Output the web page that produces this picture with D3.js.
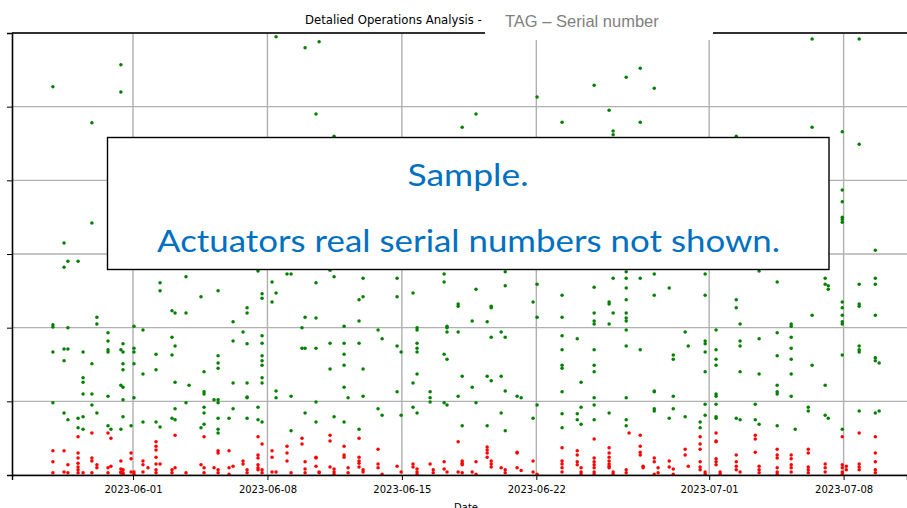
<!DOCTYPE html>
<html>
<head>
<meta charset="utf-8">
<script src="https://cdn.jsdelivr.net/npm/d3@7"></script>
<style>
html,body{margin:0;padding:0;background:#fff;overflow:hidden;}
svg{display:block;}
</style>
</head>
<body>
<svg id="chart" width="907" height="508"></svg>
<script>
// ---------------- DATA ----------------
const titleText = "Detalied Operations Analysis - ";
const tagText = "TAG \u2013 Serial number";
const xLabel = "Date";
const sampleLine1 = "Sample.";
const sampleLine2 = "Actuators real serial numbers not shown.";
const baseDate = "2023-06-01";
const xDomain = ["2023-05-25T16:48", "2023-07-11T07:12"];
const xTickLabels = ["2023-06-01", "2023-06-08", "2023-06-15", "2023-06-22", "2023-07-01", "2023-07-08"];
const yTicks = [0, 1, 2, 3, 4, 5, 6];

// [days after 2023-06-01, [values...]]
const greenCols = [
  [-4.17, [5.27, 2.04, 2.01, 1.67, 0.98]],
  [-3.59, [3.15, 2.82, 1.71, 1.55, 0.84]],
  [-3.39, [2.90, 2.00, 1.71, 0.75]],
  [-2.86, [2.90, 0.77, 0.64]],
  [-2.60, [1.67, 1.32, 1.26, 1.10, 0.79, 0.62]],
  [-2.14, [4.78, 3.42, 1.51, 1.10, 0.95]],
  [-1.88, [2.14, 2.05, 0.84]],
  [-1.30, [1.93, 1.82, 1.70, 1.67, 1.07, 0.67]],
  [-1.15, [0.62]],
  [-0.63, [5.57, 5.20, 1.70, 1.22, 0.62]],
  [-0.52, [1.78, 1.67, 1.51, 1.43, 1.19, 1.02, 0.79]],
  [-0.10, [0.67]],
  [0.05, [2.02, 1.72, 1.67, 1.51, 1.05]],
  [0.52, [1.97, 1.37, 0.72]],
  [1.20, [1.64, 1.43, 0.72]],
  [1.41, [2.61, 2.50, 0.65]],
  [2.03, [2.23, 1.87, 1.63, 0.77]],
  [2.19, [2.20, 1.75, 1.26, 0.90, 0.75]],
  [2.76, [2.69, 2.20, 0.98]],
  [2.92, [1.22]],
  [3.54, [2.42, 0.64]],
  [3.70, [1.40, 1.13, 1.10, 0.92, 0.84, 0.69]],
  [4.22, [1.02]],
  [4.43, [2.50, 1.62, 1.52, 1.45, 1.02, 0.98, 0.77, 0.62, 0.57]],
  [5.00, [0.77]],
  [5.21, [2.08, 1.82, 1.25, 0.90]],
  [5.73, [1.94]],
  [5.94, [2.27, 2.20, 1.78, 1.25, 1.06, 1.05, 0.77]],
  [6.51, [2.77, 0.92, 0.75]],
  [6.72, [2.46, 2.40, 1.89, 1.79, 1.62, 1.55, 1.49, 1.32, 1.25, 0.72]],
  [7.24, [2.62, 2.35]],
  [7.45, [5.95, 2.47, 1.14, 1.05]],
  [8.02, [2.73]],
  [8.23, [2.73, 1.07, 0.60]],
  [8.80, [2.00, 1.72]],
  [8.96, [5.80, 2.14, 1.72, 0.84]],
  [9.53, [4.90, 2.61, 2.13, 1.72, 0.99, 0.72]],
  [9.69, [5.88]],
  [10.26, [2.78, 1.79, 1.44]],
  [10.47, [4.60, 2.69, 0.79]],
  [10.99, [2.02, 1.79, 1.64, 1.49, 1.19, 0.72]],
  [11.20, [1.05]],
  [11.77, [2.38, 2.09, 1.79, 0.62]],
  [11.98, [2.67, 2.42, 1.44, 1.07]],
  [12.76, [1.97, 0.90]],
  [12.97, [1.85, 0.81]],
  [13.75, [2.67, 2.42, 1.75, 1.13]],
  [13.96, [1.67, 0.81]],
  [14.58, [2.47, 1.25, 0.92]],
  [14.79, [2.00, 1.97, 1.79, 1.72, 1.67, 1.37, 0.84]],
  [15.47, [1.13, 1.05, 0.99]],
  [16.20, [2.73, 2.62, 1.64, 0.98]],
  [16.35, [2.02, 2.00, 1.94, 1.57, 0.95]],
  [16.93, [2.32, 2.29, 1.94, 1.07]],
  [17.14, [4.72, 1.34, 0.67]],
  [17.66, [2.09, 1.19]],
  [17.86, [4.90, 2.52, 0.98]],
  [18.44, [2.08, 1.34, 0.67]],
  [18.65, [2.29, 2.27, 1.87, 1.28]],
  [19.17, [1.94, 1.34, 0.84]],
  [19.38, [2.76, 2.57, 1.87, 1.14, 0.60]],
  [20.00, [1.07]],
  [20.21, [1.05]],
  [20.83, [2.35, 0.77]],
  [21.04, [5.13, 2.59, 2.14, 0.95]],
  [22.34, [4.79, 2.44, 2.14, 1.89, 1.70, 1.49, 1.45, 1.13, 0.83, 0.64]],
  [23.13, [1.85, 0.83, 0.75]],
  [23.33, [1.26, 0.92, 0.69]],
  [24.01, [5.29, 2.55, 2.20, 2.09, 2.05, 1.70, 1.49, 1.40, 1.05, 0.95, 0.75]],
  [24.79, [4.95, 2.35, 2.32, 2.05, 0.84]],
  [25.00, [4.67, 4.62, 2.67, 2.20]],
  [25.68, [5.40, 2.76, 2.67, 2.54, 2.38, 2.20, 2.13, 2.09, 1.97, 1.75, 1.05, 0.75, 0.67]],
  [26.41, [5.52, 4.79, 2.67, 1.70]],
  [27.14, [5.25, 2.73, 2.44, 1.14, 1.13, 0.90, 0.87]],
  [27.92, [2.54, 0.77]],
  [28.13, [1.63, 1.57, 1.07, 0.90]],
  [28.75, [1.94, 0.79]],
  [28.91, [1.75]],
  [29.53, [0.72, 0.64]],
  [29.79, [2.73, 2.44, 1.82, 1.78, 1.67, 1.40, 0.96, 0.81]],
  [30.36, [1.97, 1.70, 1.57, 1.49, 1.10, 1.07, 0.96, 0.79, 0.77]],
  [31.41, [4.60, 2.38, 2.27, 0.77]],
  [31.61, [2.05, 1.82, 1.75, 1.40, 0.75]],
  [32.40, [0.96, 0.75]],
  [32.60, [2.77, 1.85, 1.37, 0.69]],
  [33.54, [2.62, 1.93, 1.62, 1.22, 1.13, 1.10, 0.67]],
  [34.27, [2.05, 2.02, 1.87, 1.72, 1.57, 1.37, 1.07]],
  [34.48, [0.62]],
  [35.16, [0.92, 0.87]],
  [35.36, [5.92, 4.72, 2.17, 1.49]],
  [36.04, [2.67, 2.59, 1.22, 0.81]],
  [36.20, [2.57, 2.52, 0.77]],
  [36.93, [4.66, 3.87, 3.71, 3.50, 3.47, 3.43, 2.35, 2.27, 2.17, 2.08, 2.05, 1.63, 0.62]],
  [37.81, [5.92, 4.49, 2.59, 2.32, 2.29, 1.75, 1.70, 1.67, 0.87]],
  [38.65, [3.05, 2.67, 2.59, 2.17, 1.59, 1.55, 0.84]],
  [38.85, [1.52, 0.87]]
];

const redCols = [
  [-4.17, [0.33, 0.18, 0.03]],
  [-3.59, [0.33, 0.04]],
  [-3.39, [0.14, 0.03]],
  [-2.86, [0.52, 0.30, 0.23, 0.16, 0.11, 0.07, 0.03]],
  [-2.60, [0.03]],
  [-2.14, [0.57, 0.23, 0.19, 0.03]],
  [-1.88, [0.14, 0.10]],
  [-1.30, [0.57, 0.10, 0.03]],
  [-1.15, [0.50, 0.12]],
  [-0.63, [0.19, 0.08, 0.04, 0.03]],
  [-0.52, [0.07, 0.03, 0.01]],
  [-0.10, [0.30, 0.22, 0.04]],
  [0.05, [0.04, 0.01]],
  [0.52, [0.19, 0.14, 0.04]],
  [0.78, [0.10]],
  [1.20, [0.45, 0.39, 0.34, 0.24, 0.15, 0.07, 0.03]],
  [1.41, [0.15]],
  [2.03, [0.07, 0.03]],
  [2.19, [0.54, 0.10]],
  [2.76, [0.03]],
  [3.54, [0.14]],
  [3.70, [0.52, 0.10, 0.03]],
  [4.22, [0.10]],
  [4.43, [0.33, 0.30, 0.07, 0.03]],
  [5.00, [0.33, 0.10, 0.01]],
  [5.21, [0.12]],
  [5.73, [0.19, 0.15]],
  [5.94, [0.07, 0.03]],
  [6.51, [0.52, 0.27, 0.23, 0.14, 0.10, 0.07]],
  [6.72, [0.42, 0.07, 0.03]],
  [7.24, [0.33, 0.24, 0.04]],
  [7.45, [0.04]],
  [8.02, [0.39, 0.30, 0.19]],
  [8.23, [0.03]],
  [8.80, [0.50, 0.42]],
  [8.96, [0.18, 0.08, 0.03]],
  [9.53, [0.24, 0.23, 0.12]],
  [9.69, [0.04, 0.03]],
  [10.26, [0.54, 0.46, 0.11]],
  [10.47, [0.08, 0.04, 0.01]],
  [10.99, [0.39, 0.27, 0.24]],
  [11.20, [0.10, 0.03]],
  [11.77, [0.50, 0.24, 0.19, 0.16, 0.11]],
  [11.98, [0.07, 0.04]],
  [12.76, [0.35, 0.15, 0.10]],
  [12.97, [0.01]],
  [13.75, [0.12]],
  [13.96, [0.04]],
  [14.58, [0.15, 0.11]],
  [14.79, [0.08, 0.04, 0.01]],
  [15.47, [0.15]],
  [15.63, [0.07, 0.03]],
  [16.20, [0.18, 0.08]],
  [16.35, [0.04]],
  [16.93, [0.45, 0.04]],
  [17.14, [0.19, 0.16, 0.14, 0.03]],
  [17.66, [0.04]],
  [17.86, [0.18, 0.01]],
  [18.44, [0.38, 0.34, 0.30, 0.24]],
  [18.65, [0.19, 0.15, 0.11]],
  [19.17, [0.10]],
  [19.38, [0.07, 0.03]],
  [20.00, [0.31, 0.30, 0.10]],
  [20.21, [0.06]],
  [20.83, [0.19, 0.04]],
  [21.04, [0.01]],
  [22.34, [0.37, 0.19, 0.15, 0.10, 0.04]],
  [23.13, [0.33, 0.27, 0.18, 0.14]],
  [23.33, [0.10, 0.04, 0.01]],
  [24.01, [0.49, 0.23, 0.18, 0.14, 0.10, 0.04, 0.01]],
  [24.79, [0.37, 0.30, 0.24, 0.19, 0.15, 0.12, 0.10]],
  [25.00, [0.04, 0.01]],
  [25.68, [0.07, 0.03]],
  [25.83, [0.57]],
  [26.41, [0.54, 0.39, 0.31, 0.27]],
  [26.56, [0.12, 0.10]],
  [27.14, [0.23, 0.18, 0.01]],
  [27.34, [0.10, 0.03]],
  [27.92, [0.19, 0.11]],
  [28.13, [0.08, 0.01]],
  [28.75, [0.35, 0.27]],
  [28.91, [0.12]],
  [29.53, [0.52, 0.42, 0.35, 0.18, 0.11, 0.07]],
  [29.79, [0.04, 0.01]],
  [30.36, [0.57, 0.46, 0.45, 0.22, 0.18, 0.14]],
  [30.57, [0.04, 0.01]],
  [31.41, [0.27, 0.18, 0.12, 0.07]],
  [31.61, [0.04]],
  [32.40, [0.54, 0.49, 0.31]],
  [32.60, [0.12, 0.07, 0.03]],
  [33.54, [0.35, 0.27, 0.23, 0.10, 0.04, 0.01]],
  [34.27, [0.27, 0.22, 0.14, 0.10, 0.04]],
  [35.16, [0.35, 0.30, 0.11, 0.07, 0.03]],
  [36.04, [0.15, 0.10, 0.04]],
  [36.93, [0.52, 0.14, 0.10, 0.04, 0.01]],
  [37.14, [0.12, 0.07]],
  [37.81, [0.57, 0.15, 0.11, 0.07]],
  [38.65, [0.52, 0.30, 0.18, 0.07, 0.03]]
];

// ---------------- DRAW ----------------
const W = 907, H = 508;
const margin = {left: 12, top: 33, right: 0, bottom: 33};
const svg = d3.select("#chart");

const parseDay = d3.timeParse("%Y-%m-%d");
const parseDT = d3.timeParse("%Y-%m-%dT%H:%M");
const base = parseDay(baseDate);
const toDate = d => new Date(base.getTime() + d * 864e5);

const x = d3.scaleTime()
  .domain(xDomain.map(parseDT))
  .range([margin.left, W - margin.right]);
const y = d3.scaleLinear()
  .domain([0, 6])
  .range([H - margin.bottom, margin.top]);

const flat = cols => cols.flatMap(([d, vals]) => vals.map(v => ({date: toDate(d), v})));
const greenPts = flat(greenCols);
const redPts = flat(redCols);
const tickDates = xTickLabels.map(parseDay);

const gridColor = "#b0b0b0";
// grid
svg.append("g").selectAll("line").data(tickDates).join("line")
  .attr("x1", d => x(d)).attr("x2", d => x(d))
  .attr("y1", y(6)).attr("y2", y(0))
  .attr("stroke", gridColor).attr("stroke-width", 1.4);
svg.append("g").selectAll("line").data(yTicks).join("line")
  .attr("x1", x.range()[0]).attr("x2", x.range()[1])
  .attr("y1", d => y(d)).attr("y2", d => y(d))
  .attr("stroke", gridColor).attr("stroke-width", 1.4);

// points
svg.append("g").selectAll("circle").data(greenPts).join("circle")
  .attr("cx", d => x(d.date)).attr("cy", d => y(d.v))
  .attr("r", 1.75).attr("fill", "#008000");
svg.append("g").selectAll("circle").data(redPts).join("circle")
  .attr("cx", d => x(d.date)).attr("cy", d => y(d.v))
  .attr("r", 1.75).attr("fill", "#ff0000");

// axes
const xAxis = d3.axisBottom(x).tickValues(tickDates)
  .tickFormat(d3.timeFormat("%Y-%m-%d")).tickSize(5).tickPadding(6);
const gx = svg.append("g").attr("transform", `translate(0,${y(0)})`).call(xAxis);
gx.select(".domain").attr("stroke", "#000").attr("stroke-width", 1.4);
gx.selectAll(".tick line").attr("stroke", "#000").attr("stroke-width", 1);
gx.selectAll(".tick text").attr("font-family", "DejaVu Sans").attr("font-size", 10).attr("fill", "#000");

const yAxis = d3.axisLeft(y).tickValues(yTicks).tickFormat("").tickSize(5);
const gy = svg.append("g").attr("transform", `translate(${x.range()[0]},0)`).call(yAxis);
gy.select(".domain").attr("stroke", "#000").attr("stroke-width", 1.6);
gy.selectAll(".tick line").attr("stroke", "#000").attr("stroke-width", 1);

// top spine
svg.append("line")
  .attr("x1", x.range()[0]).attr("x2", x.range()[1])
  .attr("y1", y(6)).attr("y2", y(6))
  .attr("stroke", "#000").attr("stroke-width", 1.4);

// x label (partly below the frame, as in the reference)
svg.append("text").attr("x", 466).attr("y", 511)
  .attr("text-anchor", "middle").attr("font-family", "DejaVu Sans").attr("font-size", 10)
  .text(xLabel);

// title
svg.append("text").attr("x", 305).attr("y", 24)
  .attr("font-family", "DejaVu Sans").attr("font-size", 11.7).attr("fill", "#000")
  .text(titleText);

// white tag box
svg.append("rect").attr("x", 485).attr("y", 0).attr("width", 228).attr("height", 40).attr("fill", "#fff");
svg.append("text").attr("x", 505).attr("y", 27)
  .attr("font-family", "Liberation Sans, Arial, sans-serif").attr("font-size", 16.5).attr("fill", "#7f7f7f")
  .text(tagText);

// sample box
svg.append("rect").attr("x", 107.5).attr("y", 137.5).attr("width", 721.5).attr("height", 132)
  .attr("fill", "#fff").attr("stroke", "#000").attr("stroke-width", 1.4);
svg.append("text").attr("x", 468).attr("y", 186)
  .attr("text-anchor", "middle").attr("font-family", "Lato, 'Open Sans', sans-serif").attr("font-size", 31)
  .attr("fill", "#0070C0").attr("textLength", 121).attr("lengthAdjust", "spacingAndGlyphs")
  .text(sampleLine1);
svg.append("text").attr("x", 468.5).attr("y", 252)
  .attr("text-anchor", "middle").attr("font-family", "Lato, 'Open Sans', sans-serif").attr("font-size", 31)
  .attr("fill", "#0070C0").attr("textLength", 623).attr("lengthAdjust", "spacingAndGlyphs")
  .text(sampleLine2);
</script>
</body>
</html>
